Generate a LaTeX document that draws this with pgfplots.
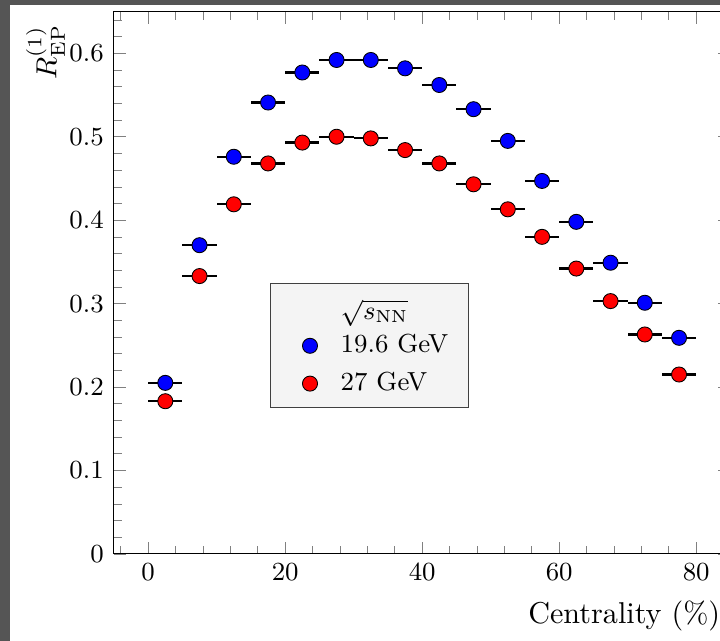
\documentclass[border=0pt]{standalone}
\usepackage{pgfplots}
\pgfplotsset{compat=1.18}
\usetikzlibrary{calc}
\definecolor{framegray}{HTML}{555555}
\definecolor{legfill}{HTML}{F4F4F4}

\pgfplotstableread{
x    y      ex
2.5  0.205  2.5
7.5  0.370  2.5
12.5 0.476  2.5
17.5 0.541  2.5
22.5 0.577  2.5
27.5 0.592  2.5
32.5 0.592  2.5
37.5 0.582  2.5
42.5 0.562  2.5
47.5 0.533  2.5
52.5 0.495  2.5
57.5 0.447  2.5
62.5 0.398  2.5
67.5 0.349  2.5
72.5 0.301  2.5
77.5 0.259  2.5
}\lowE
\pgfplotstableread{
x    y      ex
2.5  0.183  2.5
7.5  0.333  2.5
12.5 0.419  2.5
17.5 0.468  2.5
22.5 0.493  2.5
27.5 0.500  2.5
32.5 0.498  2.5
37.5 0.484  2.5
42.5 0.468  2.5
47.5 0.443  2.5
52.5 0.413  2.5
57.5 0.380  2.5
62.5 0.342  2.5
67.5 0.303  2.5
72.5 0.263  2.5
77.5 0.215  2.5
}\highE

\begin{document}
\begin{tikzpicture}
\begin{axis}[
  name=main,
  scale only axis,width=212.7pt,height=187.1pt,
  xmin=-5,xmax=85,ymin=0,ymax=0.65,
  xtick distance=20,ytick distance=0.1,
  minor x tick num=4,minor y tick num=4,
  tick label style={font=\small},
  xlabel={Centrality (\%)},
  xlabel style={at={(ticklabel cs:1)},anchor=north east,font=\fontsize{10.4}{12}\selectfont},
  ylabel={$R^{(1)}_{\mathrm{EP}}$},
  ylabel style={at={(ticklabel cs:0.925,-5.3pt)},anchor=near ticklabel,font=\fontsize{10.4}{12}\selectfont},
  legend style={at={(0.253,0.269)},anchor=south west,fill=legfill,draw=black!75,
    font=\small,row sep=1.2pt,inner xsep=5.1pt,inner ysep=2.3pt,
    /tikz/every odd column/.append style={column sep=6pt}},
  legend cell align=left,
]
\addlegendimage{empty legend}
\addlegendentry{\raisebox{-1.5pt}[6.5pt][0pt]{$\sqrt{s_{\mathrm{NN}}}$}}
\addplot[only marks,mark=*,mark size=2.6pt,mark options={fill=blue,draw=black,line width=0.3pt},
  error bars/.cd,x dir=both,x explicit,error mark=none,
  error bar style={line width=0.75pt,black}]
  table[x=x,y=y,x error=ex]{\lowE};
\addlegendentry{19.6 GeV}
\addplot[only marks,mark=*,mark size=2.6pt,mark options={fill=red,draw=black,line width=0.3pt},
  error bars/.cd,x dir=both,x explicit,error mark=none,
  error bar style={line width=0.75pt,black}]
  table[x=x,y=y,x error=ex]{\highE};
\addlegendentry{27 GeV}
\end{axis}
\pgfresetboundingbox
\path[use as bounding box] ($(main.south west)+(-39.3pt,-30.0pt)$) rectangle ($(main.south west)+(209.1pt,191.1pt)$);
\fill[framegray] ($(main.south west)+(-39.3pt,-30.0pt)$) rectangle ($(main.south west)+(-35.85pt,191.1pt)$);
\fill[framegray] ($(main.south west)+(-39.3pt,189.4pt)$) rectangle ($(main.south west)+(209.1pt,191.1pt)$);
\end{tikzpicture}
\end{document}
